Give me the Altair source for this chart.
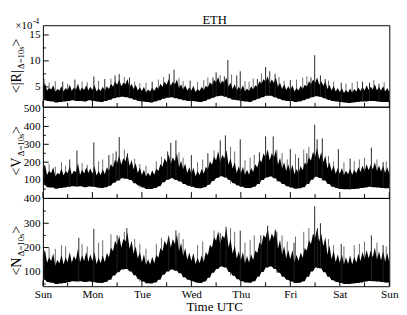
import json
import altair as alt
import pandas as pd

FONT = "Liberation Serif"
DAY_NAMES = ["Sun", "Mon", "Tue", "Wed", "Thu", "Fri", "Sat", "Sun"]
HOURS = list(range(0, 169, 2))          # band samples, every 2 h from Sun 00:00
ODD_HOURS = list(range(1, 168, 2))      # fuzz samples, every 2 h offset by 1 h
DAY_TICKS = list(range(0, 169, 24))
HALF_DAY_TICKS = list(range(12, 168, 24))

# ---------------- <|R|> (x1e-4) ----------------
R_LO = [2.5, 2.3, 2.2, 2.0, 2.1, 2.2, 2.3, 2.4, 2.3, 2.3, 2.2, 2.4,
        2.3, 2.2, 2.1, 2.3, 2.5, 2.8, 3.0, 3.1, 3.0, 2.8, 2.5, 2.3,
        2.2, 2.1, 2.0, 2.2, 2.4, 2.7, 2.9, 3.0, 2.8, 2.6, 2.4, 2.3,
        2.3, 2.2, 2.1, 2.3, 2.6, 2.9, 3.2, 3.3, 3.1, 2.8, 2.5, 2.4,
        2.3, 2.2, 2.1, 2.4, 2.7, 3.0, 3.3, 3.3, 3.0, 2.7, 2.4, 2.3,
        2.3, 2.1, 2.2, 2.4, 2.7, 3.0, 3.2, 3.1, 2.8, 2.5, 2.3, 2.2,
        2.1, 2.0, 1.9, 2.0, 2.1, 2.2, 2.2, 2.3, 2.3, 2.2, 2.1, 2.1, 2.1]
R_HI = [5.0, 4.3, 4.5, 4.0, 4.3, 4.1, 4.4, 4.2, 4.5, 4.2, 4.4, 4.3,
        4.4, 4.1, 4.2, 4.3, 4.6, 5.0, 5.4, 5.1, 5.5, 4.9, 4.6, 4.3,
        4.2, 3.9, 4.1, 4.2, 4.6, 5.0, 5.4, 5.2, 5.5, 4.8, 4.5, 4.3,
        4.3, 4.0, 4.2, 4.4, 4.9, 5.4, 5.9, 5.5, 5.8, 5.0, 4.6, 4.3,
        4.4, 4.1, 4.2, 4.5, 5.0, 5.6, 6.0, 5.6, 5.8, 5.0, 4.6, 4.4,
        4.4, 4.1, 4.3, 4.6, 5.0, 5.5, 5.8, 5.4, 5.2, 4.6, 4.3, 4.1,
        4.0, 3.8, 3.9, 3.9, 4.1, 4.2, 4.3, 4.4, 4.5, 4.3, 4.3, 4.1, 4.0]
R_FUZZ = [5.7, 4.8, 5.3, 4.6, 5.1, 4.8, 5.4, 4.9, 5.6, 4.9, 5.3, 5.0,
          5.4, 4.7, 5.0, 5.1, 5.6, 6.1, 6.4, 5.8, 6.5, 5.6, 5.4, 4.9,
          5.0, 4.5, 4.9, 5.0, 5.6, 6.0, 6.5, 6.0, 6.4, 5.5, 5.3, 4.9,
          5.2, 4.6, 5.0, 5.2, 5.9, 6.3, 6.9, 6.2, 6.8, 5.8, 5.5, 5.0,
          5.3, 4.7, 5.1, 5.3, 6.1, 6.5, 7.1, 6.4, 6.8, 5.8, 5.5, 5.1,
          5.3, 4.8, 5.2, 5.4, 6.1, 6.4, 6.8, 6.1, 6.1, 5.4, 5.2, 4.8,
          4.8, 4.4, 4.7, 4.6, 4.9, 5.0, 5.3, 5.0, 5.5, 5.0, 5.1, 4.8]
R_SPK_T = [0.5, 9.6, 15.5, 24.7, 30, 35, 37, 42, 53, 61.3, 63.6, 71.4, 82.5, 84,
           88, 89.7, 94, 95.7, 104, 108, 110, 112.6, 120, 130, 131.8, 134.6,
           136.9, 144.7, 155, 158.4, 163]
R_SPK_V = [6.6, 6.0, 6.4, 7.0, 6.5, 7.2, 7.5, 6.8, 6.0, 7.5, 8.3, 6.2, 6.8, 7.8,
           7.0, 10.2, 7.2, 8.0, 6.5, 8.8, 8.0, 7.5, 6.3, 6.8, 11.1, 7.2,
           6.5, 5.8, 6.0, 5.8, 5.6]
R_SPK2_T = [3, 6, 12, 19, 21.5, 27, 33, 39.5, 44.5, 47, 50, 56, 58.5, 66, 68, 75,
            78, 80, 86, 91.5, 98, 100, 102, 106, 114.5, 117, 123, 126, 128,
            138.5, 141, 147, 150, 152.5, 160.5, 165.5]
R_SPK2_V = [5.8, 6.1, 5.6, 6.0, 5.9, 6.2, 6.6, 6.9, 6.0, 5.7, 5.8, 6.4, 6.9, 6.7,
            6.1, 5.9, 6.3, 6.8, 7.3, 7.4, 6.1, 6.0, 6.6, 7.6, 6.9, 6.2, 6.4, 6.8,
            7.0, 6.2, 6.0, 5.6, 5.8, 6.1, 6.3, 5.9]

# ---------------- <V> ----------------
V_LO = [72, 60, 58, 52, 56, 58, 62, 66, 64, 66, 60, 64,
        62, 58, 55, 60, 68, 85, 98, 110, 108, 100, 82, 70,
        58, 50, 50, 55, 66, 88, 102, 110, 100, 92, 78, 68,
        62, 56, 54, 60, 74, 95, 112, 122, 115, 100, 82, 70,
        62, 56, 55, 62, 78, 100, 115, 120, 110, 92, 78, 66,
        58, 52, 54, 60, 78, 102, 118, 112, 98, 78, 62, 55,
        50, 48, 48, 50, 52, 56, 58, 62, 60, 58, 56, 54, 54]
V_HI = [170, 128, 140, 118, 132, 125, 138, 130, 145, 128, 136, 140,
        135, 125, 128, 132, 150, 170, 195, 185, 205, 178, 160, 140,
        128, 118, 122, 130, 150, 175, 200, 190, 205, 170, 160, 140,
        135, 122, 128, 135, 160, 185, 210, 200, 220, 185, 165, 140,
        138, 128, 130, 145, 170, 200, 225, 210, 225, 185, 165, 150,
        145, 132, 140, 155, 185, 210, 230, 215, 200, 165, 150, 135,
        135, 128, 132, 130, 138, 145, 150, 155, 160, 150, 148, 140, 135]
V_FUZZ = [185, 150, 172, 140, 165, 150, 178, 152, 195, 158, 172, 165,
          178, 150, 160, 172, 190, 215, 238, 222, 250, 212, 195, 170,
          158, 142, 155, 165, 190, 222, 245, 228, 250, 208, 192, 172,
          170, 150, 162, 175, 205, 232, 262, 242, 268, 222, 200, 178,
          175, 158, 168, 188, 218, 250, 272, 252, 270, 225, 200, 188,
          185, 162, 178, 198, 228, 258, 280, 255, 238, 200, 182, 168,
          168, 152, 165, 158, 172, 180, 188, 185, 200, 182, 180, 172]
V_SPK_T = [0.5, 13, 16.5, 24.7, 32, 35.5, 37, 41, 60.5, 62, 64.5, 72, 80, 86, 88.5,
           95.7, 105, 108, 111.7, 120, 124, 128, 131.8, 133, 135.5, 143.3, 149,
           159.3, 165]
V_SPK_V = [185, 215, 265, 310, 240, 260, 340, 250, 260, 308, 322, 240, 250, 322, 350,
           328, 255, 344, 344, 273, 225, 250, 409, 328, 333, 273, 220,
           281, 200]
V_SPK2_T = [3, 6, 9, 11, 19, 21.5, 27, 29, 34, 39.5, 44.5, 47, 50, 55, 57.5, 66, 68,
            75, 77.5, 83, 91, 93, 98, 100.5, 102.5, 113.5, 116, 118.5, 122.5, 126.5,
            129, 138.5, 141, 146, 151, 153.5, 156, 162, 166.5]
V_SPK2_V = [190, 175, 200, 180, 195, 185, 205, 215, 250, 270, 220, 190, 180, 205,
            230, 255, 225, 200, 215, 265, 285, 260, 210, 225, 240, 270, 250, 215,
            245, 270, 285, 235, 205, 200, 205, 215, 225, 215, 205]

# ---------------- <N> ----------------
N_LO = [68, 58, 55, 50, 52, 54, 58, 62, 60, 62, 58, 60,
        58, 55, 54, 58, 68, 85, 98, 110, 112, 102, 86, 70,
        60, 53, 52, 56, 68, 88, 102, 110, 105, 94, 78, 68,
        62, 56, 54, 60, 76, 96, 112, 122, 118, 100, 84, 70,
        62, 56, 55, 62, 80, 100, 118, 122, 112, 96, 80, 68,
        60, 54, 55, 62, 80, 102, 118, 115, 98, 80, 66, 58,
        54, 50, 50, 52, 54, 56, 60, 63, 62, 60, 58, 56, 56]
N_HI = [165, 138, 145, 125, 135, 130, 140, 138, 150, 140, 145, 142,
        145, 132, 135, 140, 160, 185, 210, 200, 225, 195, 175, 155,
        140, 128, 130, 135, 158, 185, 210, 200, 215, 185, 165, 150,
        145, 132, 135, 142, 168, 200, 228, 215, 238, 200, 175, 155,
        148, 135, 138, 148, 178, 210, 240, 225, 240, 195, 170, 155,
        152, 140, 145, 158, 188, 215, 240, 225, 205, 170, 152, 140,
        138, 130, 132, 130, 138, 145, 152, 155, 160, 150, 148, 142, 140]
N_FUZZ = [190, 160, 176, 150, 170, 160, 182, 165, 195, 168, 182, 172,
          182, 158, 168, 178, 200, 228, 250, 235, 262, 228, 205, 182,
          172, 152, 162, 170, 198, 228, 252, 235, 255, 220, 198, 180,
          178, 158, 168, 182, 212, 242, 268, 250, 278, 235, 208, 185,
          182, 165, 172, 188, 222, 252, 278, 258, 278, 232, 205, 190,
          190, 170, 180, 198, 230, 258, 278, 258, 242, 208, 188, 172,
          172, 160, 168, 162, 175, 182, 190, 188, 200, 185, 185, 178]
N_SPK_T = [0.5, 17.4, 24.7, 36, 40.7, 61, 64.5, 86, 88.8, 95.7, 105.7, 109, 112.6,
           121.8, 131.8, 133.2, 134.6, 144.7, 159.3, 165]
N_SPK_V = [185, 240, 277, 250, 280, 240, 270, 260, 285, 270, 250, 290, 270,
           220, 370, 280, 300, 215, 250, 210]
N_SPK2_T = [3, 6, 9, 11, 19, 21.5, 27, 29, 33, 39.5, 44.5, 47, 50, 55, 57.5, 66, 68,
            75, 77.5, 83, 91, 93, 98, 100.5, 102.5, 113.5, 116, 118.5, 122.5, 126.5,
            129, 138.5, 141, 146, 151, 153.5, 156, 162, 166.5]
N_SPK2_V = [200, 195, 210, 205, 215, 205, 220, 230, 255, 265, 235, 215, 195, 215,
            240, 260, 235, 210, 225, 270, 280, 265, 220, 230, 250, 265, 250, 225,
            245, 265, 280, 235, 210, 205, 210, 215, 225, 220, 205]

W = 357
H_TOP, H_MID, H_BOT = 84, 94, 91
XSC = alt.Scale(domain=[0, 168], nice=False, zero=False)
ONE = pd.DataFrame({"k": [0]})
TB = -23   # baseline of the rotated y titles (px left of the plot)


def txt(s, x, y, size, angle=0, align="left", baseline="alphabetic"):
    return alt.Chart(ONE).mark_text(
        text=s, font=FONT, fontSize=size, angle=angle, align=align,
        baseline=baseline, color="black"
    ).encode(x=alt.value(x), y=alt.value(y))


def panel(lo, hi, fuzz, spk_t, spk_v, spk2_t, spk2_v, domain, label_vals, major,
          minor, h, titles, bottom=False, extras=()):
    ysc = alt.Scale(domain=domain, nice=False, zero=False)
    yax = alt.Axis(values=label_vals, ticks=False, domain=False, grid=False,
                   title=None, labelPadding=3, labelFontSize=11.5, labelFont=FONT,
                   labelColor="black", labelFlush=False, labelOverlap=False)
    if bottom:
        xax = alt.Axis(values=DAY_TICKS, ticks=False, domain=False, grid=False,
                       title=None, labelPadding=3, labelFontSize=11.5, labelFont=FONT,
                       labelColor="black", labelFlush=False, labelOverlap=False,
                       labelExpr=json.dumps(DAY_NAMES) + "[round(datum.value/24)]")
    else:
        xax = None
    X = lambda f: alt.X(f, scale=XSC, axis=xax)
    Y = lambda f: alt.Y(f, scale=ysc, axis=yax)

    # band: bottom edge from `lo`, jagged top alternating band top / fuzz peaks
    ts = HOURS + ODD_HOURS
    tops = list(hi) + list(fuzz)
    bots = list(lo) + [lo[t // 2] for t in ODD_HOURS]
    band = pd.DataFrame({"t": ts, "top": tops, "bot": bots}).sort_values("t").reset_index(drop=True)
    area = alt.Chart(band).mark_area(color="black", interpolate="linear").encode(
        x=X("t:Q"), y=Y("top:Q"), y2="bot:Q")

    def spike_layer(st, sv, color):
        base = [lo[min(len(lo) - 1, int(round(t / 2)))] for t in st]
        sp = pd.DataFrame({"t": st, "v": sv, "b": base})
        return alt.Chart(sp).mark_rule(color=color, strokeWidth=1).encode(
            x=X("t:Q"), y=Y("v:Q"), y2="b:Q")

    spikes2 = spike_layer(spk2_t, spk2_v, "#6a6a6a")
    spikes = spike_layer(spk_t, spk_v, "#222")

    ymaj = alt.Chart(pd.DataFrame({"v": major})).mark_rule(color="black").encode(
        y=Y("v:Q"), x=alt.value(0), x2=alt.value(6))
    ymin = alt.Chart(pd.DataFrame({"v": minor})).mark_rule(color="black").encode(
        y=Y("v:Q"), x=alt.value(0), x2=alt.value(3))
    xmaj = alt.Chart(pd.DataFrame({"t": DAY_TICKS})).mark_rule(color="black").encode(
        x=X("t:Q"), y=alt.value(h), y2=alt.value(h - 6))
    xmin = alt.Chart(pd.DataFrame({"t": HALF_DAY_TICKS})).mark_rule(color="black").encode(
        x=X("t:Q"), y=alt.value(h), y2=alt.value(h - 4))
    main, sub, close, ymain, ysub, yclose = titles
    tl = [txt(main, TB, ymain, 14.5, angle=270),
          txt(sub, TB + 3.5, ysub, 9, angle=270),
          txt(close, TB, yclose, 14.5, angle=270)]
    return alt.layer(spikes2, area, spikes, ymaj, ymin, xmaj, xmin, *tl, *extras).properties(
        width=W, height=h)


guard = alt.Chart(ONE).mark_rule(opacity=0).encode(
    x=alt.value(-35), x2=alt.value(-35), y=alt.value(-12), y2=alt.value(-12))

top = panel(R_LO, R_HI, R_FUZZ, R_SPK_T, R_SPK_V, R_SPK2_T, R_SPK2_V,
            [1.17, 16.87], [5, 10, 15], [5, 10, 15], [2.5, 7.5, 12.5], H_TOP,
            ("<|R|", "Δ=10s", ">", 70, 45, 22), extras=(
                guard,
                txt("ETH", 177, -1, 13, align="center"),
                txt("×10", -11, 4, 11, align="right"),
                txt("-4", -10.5, -1, 8),
            ))
mid = panel(V_LO, V_HI, V_FUZZ, V_SPK_T, V_SPK_V, V_SPK2_T, V_SPK2_V,
            [0, 510], [100, 200, 300, 400, 500], [100, 200, 300, 400],
            [50, 150, 250, 350, 450], H_MID,
            ("<V", "Δ=10s", ">", 71, 51, 28))
bot = panel(N_LO, N_HI, N_FUZZ, N_SPK_T, N_SPK_V, N_SPK2_T, N_SPK2_V,
            [41, 404], [100, 200, 300, 400], [100, 200, 300], [50, 150, 250, 350], H_BOT,
            ("<N", "Δ=10s", ">", 80, 60, 37), bottom=True,
            extras=(txt("Time UTC", 177, H_BOT + 26, 13.5, align="center"),))

chart = alt.vconcat(top, mid, bot, spacing=0, bounds="flush").properties(
    padding=0, background="white"
).configure_view(stroke="black", strokeWidth=1)

chart.save("out.html", embed_options={"renderer": "svg", "actions": False})
